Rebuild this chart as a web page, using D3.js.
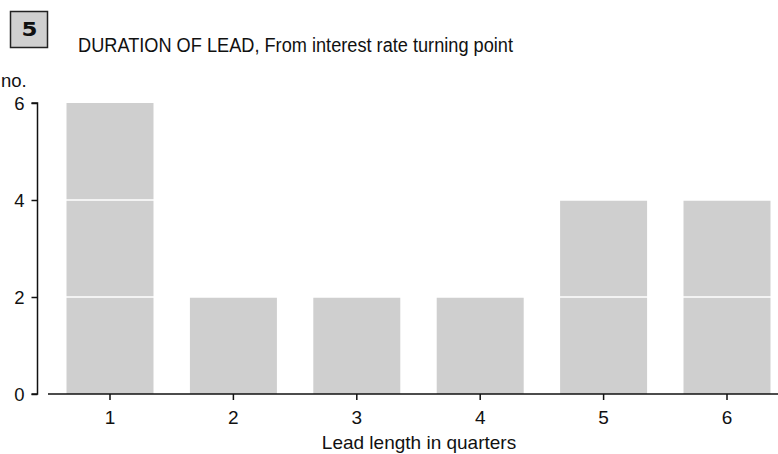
<!DOCTYPE html>
<html><head><meta charset="utf-8">
<script src="https://cdn.jsdelivr.net/npm/d3@7"></script>
<style>body{margin:0;background:#fff}svg{display:block}</style>
</head><body>
<svg id="c" width="778" height="454"></svg>
<script>
const categories = ["1","2","3","4","5","6"];
const values = [6,2,2,2,4,4];
const yTicks = [0,2,4,6];
const title = "DURATION OF LEAD, From interest rate turning point";
const chartNumber = "5";
const yUnit = "no.";
const xTitle = "Lead length in quarters";

const svg = d3.select("#c");
const font = "Liberation Sans, Arial, sans-serif";
const x = d3.scaleBand().domain(categories).range([48.3, 788.7]).paddingInner(0.295).paddingOuter(0.1475);
const y = d3.scaleLinear().domain([0,6]).range([394, 103]);

// title box
svg.append("rect").attr("x",10.5).attr("y",11.5).attr("width",37).attr("height",36)
  .attr("fill","#d0d0d0").attr("stroke","#222").attr("stroke-width",1.5);
svg.append("text").attr("x",29.5).attr("y",36).attr("text-anchor","middle")
  .attr("font-family","DejaVu Sans, Arial, sans-serif").attr("font-weight","900").attr("font-size",20)
  .attr("fill","#111").attr("textLength",16).attr("lengthAdjust","spacingAndGlyphs").text(chartNumber);
svg.append("text").attr("x",78).attr("y",52).attr("font-family",font).attr("font-size",19.5)
  .attr("fill","#111").attr("textLength",435).attr("lengthAdjust","spacingAndGlyphs").text(title);
svg.append("text").attr("x",1).attr("y",87).attr("font-family",font).attr("font-size",18.5)
  .attr("fill","#111").text(yUnit);

// bars
svg.append("g").selectAll("rect").data(values).join("rect")
  .attr("x",(d,i)=>x(categories[i])).attr("width",x.bandwidth())
  .attr("y",d=>y(d)).attr("height",d=>y(0)-y(d)).attr("fill","#cfcfcf");

// white gridlines over bars
svg.append("g").selectAll("line").data(yTicks.filter(t=>t>0 && t<6)).join("line")
  .attr("x1",48).attr("x2",778).attr("y1",d=>y(d)).attr("y2",d=>y(d))
  .attr("stroke","#fff").attr("stroke-width",1.5);

// y axis
const ya = svg.append("g").attr("transform","translate(37.5,0)")
  .call(d3.axisLeft(y).tickValues(yTicks).tickSize(6).tickPadding(7).tickFormat(d3.format("d")));
ya.select(".domain").attr("d",`M-6,${y(6)}H0V${y(0)}H-6`).attr("stroke","#111").attr("stroke-width",1.5);
ya.selectAll(".tick line").attr("stroke","#111").attr("stroke-width",1.5);
ya.selectAll(".tick text").attr("font-family",font).attr("font-size",18.5).attr("fill","#111").attr("dy","0.36em");

// x axis
const xa = svg.append("g").attr("transform",`translate(0,${y(0)})`)
  .call(d3.axisBottom(x).tickSize(6).tickPadding(0));
xa.select(".domain").attr("d","M48,0H778").attr("stroke","#111").attr("stroke-width",1.5);
xa.selectAll(".tick line").attr("stroke","#111").attr("stroke-width",1.5);
xa.selectAll(".tick text").attr("font-family",font).attr("font-size",19).attr("fill","#111")
  .attr("dy",null).attr("y",30);

svg.append("text").attr("x",419).attr("y",449).attr("text-anchor","middle")
  .attr("font-family",font).attr("font-size",19).attr("fill","#111").text(xTitle);
</script>
</body></html>
